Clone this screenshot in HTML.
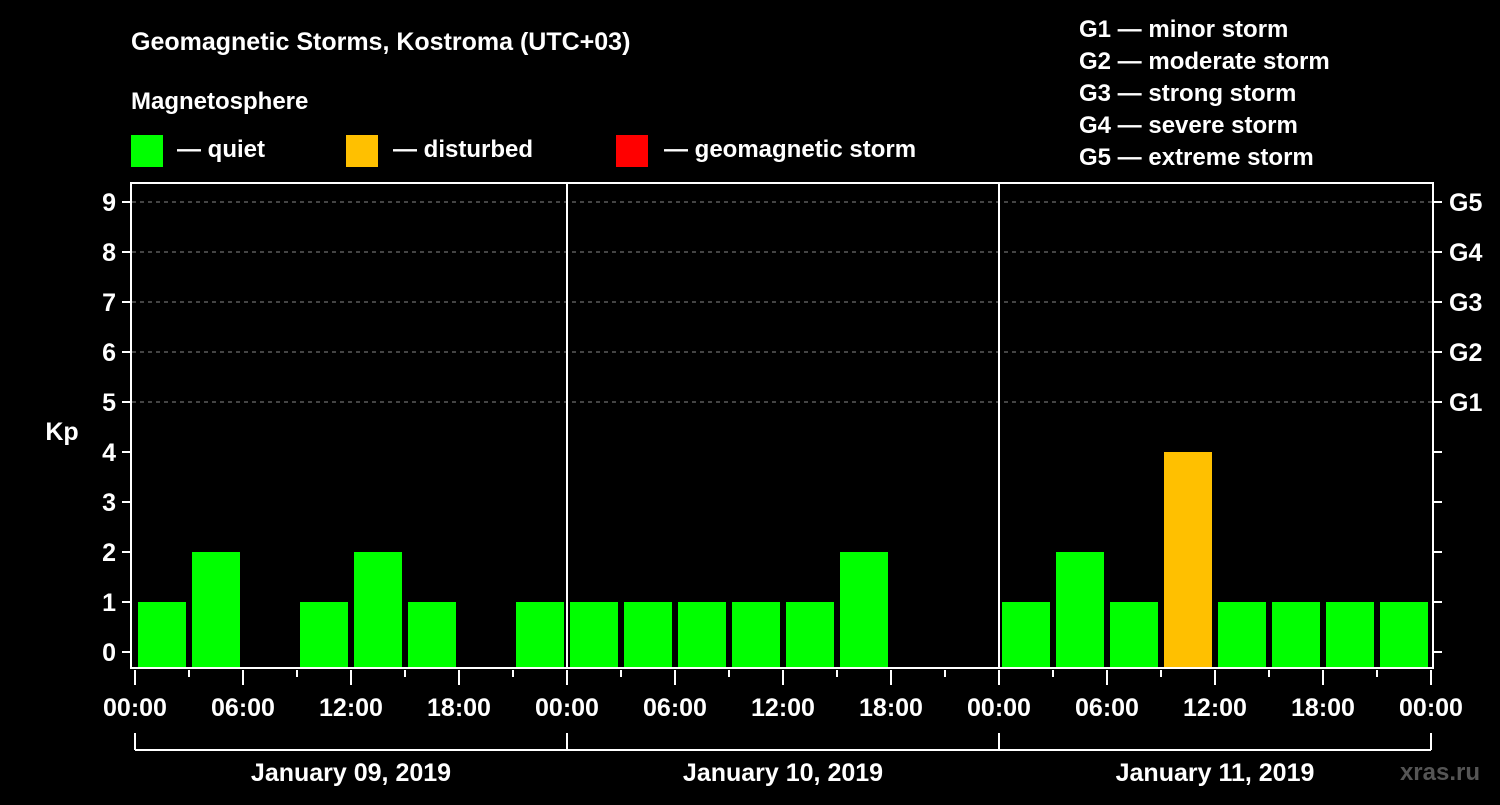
<!DOCTYPE html>
<html><head><meta charset="utf-8"><style>
body{margin:0;background:#000;}
svg text{font-family:"Liberation Sans",sans-serif;font-weight:bold;fill:#fff;}
</style></head><body>
<svg width="1500" height="800">
<rect width="1500" height="800" fill="#000"/>
<text x="131" y="50" font-size="25">Geomagnetic Storms, Kostroma (UTC+03)</text>
<text x="131" y="109" font-size="24">Magnetosphere</text>
<rect x="131" y="135" width="32" height="32" fill="#00ff00"/>
<text x="177" y="157" font-size="24">— quiet</text>
<rect x="346" y="135" width="32" height="32" fill="#ffc000"/>
<text x="393" y="157" font-size="24">— disturbed</text>
<rect x="616" y="135" width="32" height="32" fill="#ff0000"/>
<text x="664" y="157" font-size="24">— geomagnetic storm</text>
<g font-size="24">
<text x="1079" y="37">G1 — minor storm</text>
<text x="1079" y="69">G2 — moderate storm</text>
<text x="1079" y="101">G3 — strong storm</text>
<text x="1079" y="133">G4 — severe storm</text>
<text x="1079" y="165">G5 — extreme storm</text>
</g>
<text x="1480" y="780" font-size="24" text-anchor="end" fill="#555" style="fill:#555">xras.ru</text>
<text x="62" y="440" font-size="25" text-anchor="middle">Kp</text>
<g id="plot"></g>
</svg>
<script>
const kpValues=[1,2,0,1,2,1,0,1, 1,1,1,1,1,2,0,0, 1,2,1,4,1,1,1,1];
const dayLabels=["January 09, 2019","January 10, 2019","January 11, 2019"];
const hourLabels=["00:00","06:00","12:00","18:00"];
const yTicks=[0,1,2,3,4,5,6,7,8,9];
const gLabels=[["G1",5],["G2",6],["G3",7],["G4",8],["G5",9]];
const NS="http://www.w3.org/2000/svg";
const g=document.getElementById('plot');
const x0=135, slot=54, dayW=432;
const xs=i=>x0+i*slot;
const ys=v=>652-v*50;
function mk(t,a,p){const e=document.createElementNS(NS,t);for(const k in a)e.setAttribute(k,a[k]);(p||g).appendChild(e);return e;}
// grid
[5,6,7,8,9].forEach(v=>{const l=mk('line',{x1:132,x2:1432,y1:ys(v),y2:ys(v),stroke:'#888','stroke-dasharray':'4,4','stroke-width':1});

});
// bars
kpValues.forEach((v,i)=>{if(v<=0)return;const c=v>=5?'#ff0000':v>=4?'#ffc000':'#00ff00';
const r=mk('rect',{x:xs(i)+3,y:ys(v),width:48,height:667-ys(v),fill:c});

});
// frame and day separators
const f=mk('rect',{x:131,y:183,width:1302,height:485,fill:'none',stroke:'#fff','stroke-width':2});


[1,2].forEach(d=>{const l=mk('line',{x1:x0+d*dayW,x2:x0+d*dayW,y1:183,y2:668,stroke:'#fff','stroke-width':2});

});
// y ticks
yTicks.forEach(v=>{mk('line',{x1:122,x2:131,y1:ys(v),y2:ys(v),stroke:'#fff','stroke-width':2});
mk('line',{x1:1433,x2:1442,y1:ys(v),y2:ys(v),stroke:'#fff','stroke-width':2});
const t=mk('text',{x:116,y:ys(v)+9,'font-size':25,'text-anchor':'end'});t.textContent=v;

});
gLabels.forEach(([s,v])=>{const t=mk('text',{x:1449,y:ys(v)+9,'font-size':25});t.textContent=s;

});
// x ticks
for(let i=0;i<=24;i++){const x=xs(i);const major=i%2==0;
mk('line',{x1:x,x2:x,y1:670,y2:major?685:677,stroke:'#fff','stroke-width':2});
if(major){const t=mk('text',{x:x,y:716,'font-size':25,'text-anchor':'middle'});t.textContent=hourLabels[(i/2)%4];

}}
// day bracket
mk('line',{x1:x0,x2:x0+3*dayW,y1:750,y2:750,stroke:'#fff','stroke-width':2});
for(let d=0;d<=3;d++)mk('line',{x1:x0+d*dayW,x2:x0+d*dayW,y1:733,y2:750,stroke:'#fff','stroke-width':2});
dayLabels.forEach((s,d)=>{const t=mk('text',{x:x0+d*dayW+dayW/2,y:781,'font-size':25,'text-anchor':'middle'});t.textContent=s;

});
</script>
</body></html>
